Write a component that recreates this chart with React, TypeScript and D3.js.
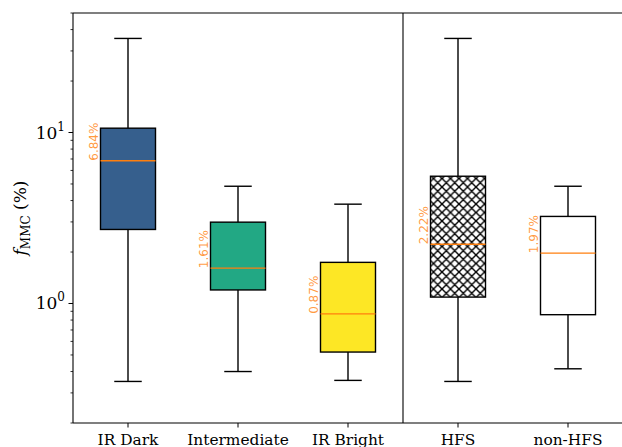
import React from "react";
import * as d3 from "d3";

const categories = ["IR Dark", "Intermediate", "IR Bright", "HFS", "non-HFS"];
const whiskerLow = [0.35, 0.40, 0.355, 0.35, 0.415];
const q1 = [2.71, 1.2, 0.52, 1.09, 0.86];
const medians = [6.84, 1.61, 0.87, 2.22, 1.97];
const q3 = [10.6, 2.99, 1.74, 5.55, 3.23];
const whiskerHigh = [35.5, 4.85, 3.81, 35.5, 4.85];
const fills = ["#365f8d", "#22a884", "#fde725", "url(#xhatch)", "#ffffff"];
const medianLabels = ["6.84%", "1.61%", "0.87%", "2.22%", "1.97%"];
const yMajor = [1, 10];

export default function App() {
  const W = 622, H = 447;
  const left = 73, right = 623, top = 13, bottom = 423;
  const x = d3.scaleLinear().domain([0.5, 5.5]).range([left, right]);
  const y = d3.scaleLog().domain([0.2, 50]).range([bottom, top]);
  const minor: number[] = [];
  [0.1, 1, 10].forEach((d) => {
    for (let k = 2; k <= 9; k++) {
      const v = d * k;
      if (v >= 0.2 && v <= 50) minor.push(v);
    }
  });
  const bw = 0.5, cw = 0.25;
  const P = 8.5;
  return (
    <svg width={W} height={H} style={{ position: "absolute", left: 0, top: 0, background: "#fff" }}>
      <defs>
        <pattern id="xhatch" patternUnits="userSpaceOnUse" width={P} height={P}>
          <rect width={P} height={P} fill="#fff" />
          <path d={`M0,0 L${P},${P} M${P},0 L0,${P} M-1,${P - 1} L1,${P + 1} M${P - 1},-1 L${P + 1},1 M-1,1 L1,-1 M${P - 1},${P + 1} L${P + 1},${P - 1}`} stroke="#000" strokeWidth={1.4} />
        </pattern>
      </defs>
      {categories.map((c, i) => {
        const p = i + 1;
        const cx = x(p);
        return (
          <g key={c}>
            <line x1={cx} x2={cx} y1={y(whiskerHigh[i])} y2={y(q3[i])} stroke="#000" strokeWidth={1.4} />
            <line x1={cx} x2={cx} y1={y(q1[i])} y2={y(whiskerLow[i])} stroke="#000" strokeWidth={1.4} />
            <line x1={x(p - cw / 2)} x2={x(p + cw / 2)} y1={y(whiskerHigh[i])} y2={y(whiskerHigh[i])} stroke="#000" strokeWidth={1.4} />
            <line x1={x(p - cw / 2)} x2={x(p + cw / 2)} y1={y(whiskerLow[i])} y2={y(whiskerLow[i])} stroke="#000" strokeWidth={1.4} />
            <rect x={x(p - bw / 2)} y={y(q3[i])} width={x(p + bw / 2) - x(p - bw / 2)} height={y(q1[i]) - y(q3[i])} fill={fills[i]} stroke="#000" strokeWidth={1.4} />
            <line x1={x(p - bw / 2)} x2={x(p + bw / 2)} y1={y(medians[i])} y2={y(medians[i])} stroke="#ff7f0e" strokeWidth={1.4} />
            <text transform={`translate(${x(p - bw / 2) - 3},${y(medians[i])}) rotate(-90)`} fill="#ff7f0e" fillOpacity={0.8} fontFamily="DejaVu Sans" fontSize={12} textAnchor="start">{medianLabels[i]}</text>
          </g>
        );
      })}
      <line x1={x(3.5)} x2={x(3.5)} y1={top} y2={bottom} stroke="#000" strokeWidth={1.1} />
      <line x1={left} x2={left} y1={top} y2={bottom} stroke="#000" strokeWidth={1.1} />
      <line x1={left} x2={right} y1={top} y2={top} stroke="#000" strokeWidth={1.1} />
      <line x1={left} x2={right} y1={bottom} y2={bottom} stroke="#000" strokeWidth={1.1} />
      <line x1={right} x2={right} y1={top} y2={bottom} stroke="#000" strokeWidth={1.1} />
      {minor.map((v) => (
        <line key={v} x1={left - 2.5} x2={left} y1={y(v)} y2={y(v)} stroke="#000" strokeWidth={0.8} />
      ))}
      {yMajor.map((v) => (
        <g key={v}>
          <line x1={left - 4.5} x2={left} y1={y(v)} y2={y(v)} stroke="#000" strokeWidth={1} />
          <text x={left - 8} y={y(v) + 6} textAnchor="end" fontFamily="DejaVu Serif" fontSize={17}>
            10<tspan dy={-8} fontSize={12}>{Math.round(Math.log10(v))}</tspan>
          </text>
        </g>
      ))}
      {categories.map((c, i) => (
        <g key={c + "t"}>
          <line x1={x(i + 1)} x2={x(i + 1)} y1={bottom} y2={bottom + 4.5} stroke="#000" strokeWidth={1} />
          <text x={x(i + 1)} y={bottom + 22} textAnchor="middle" fontFamily="DejaVu Serif" fontSize={15.4}>{c}</text>
        </g>
      ))}
      <text transform={`translate(26,${(top + bottom) / 2}) rotate(-90)`} textAnchor="middle" fontFamily="DejaVu Serif" fontSize={17}>
        <tspan fontStyle="italic">f</tspan>
        <tspan fontSize={12} dy={3.5}>MMC</tspan>
        <tspan dy={-3.5}> (%)</tspan>
      </text>
    </svg>
  );
}
